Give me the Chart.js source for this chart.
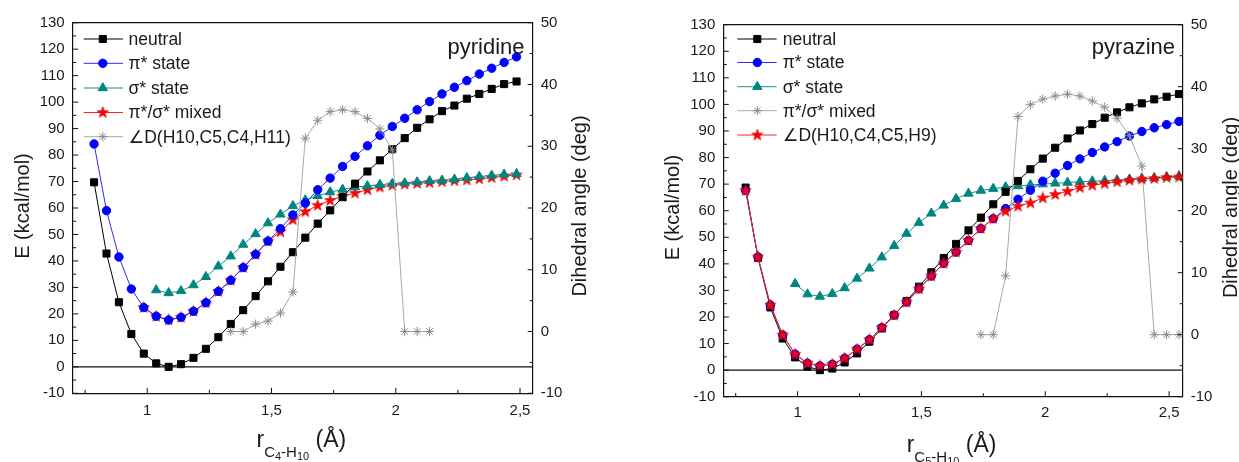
<!DOCTYPE html>
<html>
<head>
<meta charset="utf-8">
<script src="https://cdn.jsdelivr.net/npm/chart.js@4.4.1/dist/chart.umd.min.js"></script>
<style>
  html, body { margin: 0; padding: 0; background: #fff; }
  #wrap { position: relative; width: 1239px; height: 462px; overflow: hidden; }
  canvas { position: absolute; top: 0; }
  #pyridine { left: 0; }
  #pyrazine { left: 620px; }
</style>
</head>
<body>
<div id="wrap">
  <canvas id="pyridine" width="620" height="462"></canvas>
  <canvas id="pyrazine" width="619" height="462"></canvas>
</div>
<script>
// ---- pyridine (left panel) ----
var rPyridine = [0.786, 0.836, 0.886, 0.936, 0.986, 1.036, 1.086, 1.136, 1.186, 1.236, 1.286, 1.336,
  1.386, 1.436, 1.486, 1.536, 1.586, 1.636, 1.686, 1.736, 1.786, 1.836, 1.886, 1.936, 1.986, 2.036,
  2.086, 2.136, 2.186, 2.236, 2.286, 2.336, 2.386, 2.436, 2.486];
var pyridineNeutral = [69.7, 42.8, 24.4, 12.4, 5.0, 1.3, 0, 1.0, 3.4, 6.8, 11.2, 16.2, 21.4, 26.7,
  32.3, 37.8, 43.3, 48.8, 54.1, 59.1, 64.1, 69.2, 73.8, 78.0, 82.2, 86.4, 90.3, 93.5, 96.6, 98.7,
  101.3, 103.1, 105.0, 106.8, 107.8];
var pyridinePi = [84.2, 59.0, 41.5, 29.4, 22.4, 19.1, 17.7, 18.7, 21.0, 24.2, 28.5, 32.7, 37.5, 42.5,
  47.5, 52.2, 57.4, 61.8, 66.9, 71.3, 75.7, 79.5, 83.5, 87.5, 90.8, 93.9, 97.1, 100.2, 103.1, 105.6,
  108.1, 110.6, 112.8, 115.0, 117.1];
var pyridineSigma = [null, null, null, null, null, 29.0, 27.9, 28.7, 30.9, 34.0, 38.0, 41.8, 46.2,
  50.2, 54.3, 57.6, 60.8, 63.0, 64.6, 66.0, 67.0, 67.9, 68.3, 68.8, 69.2, 69.4, 69.8, 70.2, 70.4,
  70.8, 71.4, 71.9, 72.3, 72.7, 72.9];
var pyridineMixed = [null, null, null, null, 22.4, 19.1, 17.7, 18.7, 21.0, 24.2, 28.5, 32.7, 37.5,
  42.5, 47.5, 51.0, 55.6, 58.6, 61.0, 62.9, 64.4, 65.6, 66.9, 67.9, 68.6, 69.0, 69.3, 69.6, 70.0,
  70.3, 70.6, 71.0, 71.5, 72.0, 72.5];
var pyridineAngle = [null, null, null, null, null, null, null, null, null, null, null, 0, 0, 1.2, 1.7,
  3.0, 6.4, 31.3, 34.2, 35.6, 35.9, 35.6, 34.5, 32.8, 29.4, 0, 0, 0, null, null, null, null, null,
  null, null];

// ---- pyrazine (right panel) ----
var rPyrazine = [0.79, 0.84, 0.89, 0.94, 0.99, 1.04, 1.09, 1.14, 1.19, 1.24, 1.29, 1.34, 1.39, 1.44,
  1.49, 1.54, 1.59, 1.64, 1.69, 1.74, 1.79, 1.84, 1.89, 1.94, 1.99, 2.04, 2.09, 2.14, 2.19, 2.24,
  2.29, 2.34, 2.39, 2.44, 2.49, 2.54];
var pyrazineNeutral = [68.7, 42.3, 23.6, 11.9, 4.8, 1.3, 0, 0.6, 2.9, 6.3, 10.7, 15.7, 20.7, 26.0,
  31.4, 36.8, 42.2, 47.5, 52.6, 57.4, 62.4, 67.1, 71.2, 75.6, 79.6, 83.7, 87.2, 90.2, 92.6, 95.0,
  97.0, 98.9, 100.4, 101.9, 102.9, 103.9];
var pyrazinePi = [67.6, 42.6, 24.5, 13.2, 6.0, 2.6, 1.6, 2.2, 4.5, 7.9, 11.5, 16.0, 20.7, 25.6, 30.6,
  35.4, 40.2, 44.4, 48.8, 53.3, 57.0, 60.8, 64.3, 67.7, 71.1, 74.1, 77.0, 79.5, 81.9, 84.0, 86.0,
  88.1, 89.8, 91.2, 92.4, 93.6];
var pyrazineSigma = [null, null, null, null, 32.5, 28.6, 27.7, 28.7, 30.9, 34.5, 38.3, 42.5, 46.8,
  51.4, 55.5, 59.0, 62.0, 64.5, 66.5, 67.6, 68.3, 68.9, 69.3, 69.7, 70.0, 70.3, 70.6, 70.9, 71.1,
  71.3, 71.5, 71.8, 72.1, 72.3, 72.7, 73.0];
var pyrazineAngle = [null, null, null, null, null, null, null, null, null, null, null, null, null,
  null, null, null, null, null, null, 0, 0, 9.5, 35.2, 37.1, 38.0, 38.5, 38.8, 38.5, 37.7, 36.7,
  34.9, 32.1, 27.2, 0, 0, 0];
var pyrazineMixed = [67.6, 42.6, 24.5, 13.2, 6.0, 2.6, 1.6, 2.2, 4.5, 7.9, 11.5, 16.0, 20.7, 25.6,
  30.6, 35.4, 40.2, 44.4, 48.8, 53.3, 57.0, 59.8, 61.7, 62.9, 64.8, 66.1, 67.3, 68.7, 69.6, 70.2,
  70.9, 71.5, 71.9, 72.1, 72.5, 72.7];

// ---- axes ----
var xMajorTicks = [1, 1.5, 2, 2.5];
var xMinorTicks = [0.75, 1.25, 1.75, 2.25];
var energyRange = [-10, 130];
var angleRange = [-10, 50];

var FONT = "'Liberation Sans', Arial, 'DejaVu Sans', sans-serif";
Chart.defaults.font.family = FONT;
Chart.defaults.color = '#1a1a1a';

function starImage() {
  var c = document.createElement('canvas');
  c.width = 13; c.height = 13;
  var g = c.getContext('2d');
  g.beginPath();
  for (var k = 0; k < 10; k++) {
    var a = -Math.PI / 2 + k * Math.PI / 5;
    var rr = k % 2 ? 2.4 : 6;
    g.lineTo(6.5 + rr * Math.cos(a), 6.6 + rr * Math.sin(a));
  }
  g.closePath();
  g.fillStyle = '#ff0000';
  g.fill();
  g.strokeStyle = '#d00000';
  g.lineWidth = 0.6;
  g.stroke();
  return c;
}

var look = {
  neutral: { line: '#000000', fill: '#000000', point: 'rect', radius: 5 },
  pi: { line: '#2a2aff', fill: '#0000ff', point: 'circle', radius: 4.2 },
  sigma: { line: '#1a8f8a', fill: '#008580', point: 'triangle', radius: 5.4 },
  red: { line: '#ff2020', fill: '#ff0000', point: starImage(), radius: 5 },
  gray: { line: '#a8a8a8', fill: '#8a8a8a', point: 'star', radius: 4.6 }
};

function line(ctx, x1, y1, x2, y2) {
  ctx.beginPath();
  ctx.moveTo(x1, y1);
  ctx.lineTo(x2, y2);
  ctx.stroke();
}

function makeDecor(spec) {
  return {
    id: 'decor',
    afterDraw: function(chart) {
      var ctx = chart.ctx, a = chart.chartArea;
      var sx = chart.scales.x, sy = chart.scales.y, sy2 = chart.scales.y2;
      var v;
      ctx.save();
      ctx.strokeStyle = '#111';
      ctx.lineWidth = 1.2;
      line(ctx, a.left, a.top, a.right, a.top);
      var y0 = sy.getPixelForValue(0);
      line(ctx, a.left, y0, a.right, y0);

      // inward ticks
      ctx.lineWidth = 1;
      for (v = energyRange[0]; v <= energyRange[1]; v += 5) {
        var yy = sy.getPixelForValue(v);
        line(ctx, a.left, yy, a.left + (v % 10 === 0 ? 5.5 : 3.5), yy);
      }
      for (v = angleRange[0]; v <= angleRange[1]; v += 5) {
        var y2 = sy2.getPixelForValue(v);
        line(ctx, a.right, y2, a.right - (v % 10 === 0 ? 5 : 3), y2);
      }
      xMajorTicks.forEach(function(t) {
        var xx = sx.getPixelForValue(t);
        line(ctx, xx, a.bottom, xx, a.bottom - 5.5);
      });
      xMinorTicks.forEach(function(t) {
        var xx = sx.getPixelForValue(t);
        line(ctx, xx, a.bottom, xx, a.bottom - 3.5);
      });

      // axis titles
      ctx.fillStyle = '#1a1a1a';
      ctx.font = '20px ' + FONT;
      ctx.textAlign = 'center';
      ctx.textBaseline = 'alphabetic';
      ctx.save();
      ctx.translate(spec.eTitleX, spec.titleMidY);
      ctx.rotate(-Math.PI / 2);
      ctx.fillText('E (kcal/mol)', 0, 0);
      ctx.restore();
      ctx.save();
      ctx.translate(spec.dTitleX, spec.titleMidY);
      ctx.rotate(-Math.PI / 2);
      ctx.fillText('Dihedral angle (deg)', 0, 0);
      ctx.restore();

      ctx.textAlign = 'left';
      var x = spec.rTitleX;
      spec.rTitle.forEach(function(run) {
        ctx.font = run.size + 'px ' + FONT;
        ctx.fillText(run.text, x, spec.rTitleBase + run.dy);
        x += ctx.measureText(run.text).width;
      });

      // molecule name
      ctx.font = '22px ' + FONT;
      ctx.textAlign = 'right';
      ctx.fillText(spec.name, spec.nameX, spec.nameY);

      // legend
      var lg = spec.legend;
      ctx.font = '17.5px ' + FONT;
      ctx.textAlign = 'left';
      ctx.textBaseline = 'middle';
      spec.series.forEach(function(s, i) {
        var ly = lg.ys[i];
        ctx.strokeStyle = s.look.line;
        ctx.lineWidth = 1;
        line(ctx, lg.x0, ly, lg.x1, ly);
        ctx.fillStyle = s.look.fill;
        ctx.strokeStyle = s.look.fill;
        Chart.helpers.drawPoint(ctx, {
          pointStyle: s.look.point, radius: s.look.radius, borderWidth: 1, rotation: 0
        }, lg.mx, ly);
        ctx.fillStyle = '#1a1a1a';
        ctx.fillText(s.label, lg.tx, ly + 1);
      });
      ctx.restore();
    }
  };
}

function drawPanel(id, spec) {
  var canvas = document.getElementById(id);
  var W = canvas.width, H = canvas.height, A = spec.area;
  var datasets = spec.series.map(function(s) {
    return {
      label: s.label,
      data: spec.r.map(function(x, i) { return { x: x, y: s.values[i] }; })
                  .filter(function(p) { return p.y !== null; }),
      yAxisID: s.axis,
      order: s.order,
      borderColor: s.look.line,
      borderWidth: 1,
      backgroundColor: s.look.fill,
      pointBackgroundColor: s.look.fill,
      pointBorderColor: s.look.fill,
      pointBorderWidth: 1,
      pointStyle: s.look.point,
      pointRadius: s.look.radius,
      tension: 0,
      fill: false
    };
  });
  var tickFont = { size: 15 };
  new Chart(canvas, {
    type: 'line',
    data: { datasets: datasets },
    options: {
      responsive: false,
      animation: false,
      events: [],
      layout: { autoPadding: false, padding: { top: A.top, left: 0, right: 0, bottom: 0 } },
      plugins: { legend: { display: false }, tooltip: { enabled: false } },
      scales: {
        x: {
          type: 'linear', min: 0.70, max: spec.xMax,
          grid: { display: false, drawTicks: false },
          border: { color: '#111', width: 1.2 },
          ticks: {
            font: tickFont, padding: spec.xPad, maxRotation: 0,
            callback: function(v) { return String(v).replace('.', ','); }
          },
          afterBuildTicks: function(s) { s.ticks = xMajorTicks.map(function(v) { return { value: v }; }); },
          afterFit: function(s) { s.height = H - A.bottom; }
        },
        y: {
          position: 'left', min: energyRange[0], max: energyRange[1],
          grid: { display: false, drawTicks: false },
          border: { color: '#111', width: 1.2 },
          ticks: { font: tickFont, stepSize: 10, padding: 8 },
          afterFit: function(s) { s.width = A.left; }
        },
        y2: {
          position: 'right', min: angleRange[0], max: angleRange[1],
          grid: { display: false, drawTicks: false },
          border: { color: '#111', width: 1.2 },
          ticks: { font: tickFont, stepSize: 10, padding: 8 },
          afterFit: function(s) { s.width = W - A.right; }
        }
      }
    },
    plugins: [makeDecor(spec)]
  });
}

drawPanel('pyridine', {
  r: rPyridine,
  area: { left: 72.7, right: 532.7, top: 22.7, bottom: 393.3 },
  xMax: 2.551, xPad: 9,
  name: 'pyridine', nameX: 524.5, nameY: 53.5,
  eTitleX: 28.5, dTitleX: 586, titleMidY: 206,
  rTitleX: 256.5, rTitleBase: 447,
  rTitle: [
    { text: 'r', size: 23, dy: 0 }, { text: 'C', size: 15, dy: 10 }, { text: '4', size: 11, dy: 13 },
    { text: '-H', size: 15, dy: 10 }, { text: '10', size: 11, dy: 13 }, { text: ' (Å)', size: 23, dy: 0 }
  ],
  legend: { x0: 83.7, x1: 123, mx: 102.8, tx: 128.5, ys: [39, 63.3, 88, 112.5, 136.7] },
  series: [
    { label: 'neutral', values: pyridineNeutral, axis: 'y', order: 1, look: look.neutral },
    { label: 'π* state', values: pyridinePi, axis: 'y', order: 2, look: look.pi },
    { label: 'σ* state', values: pyridineSigma, axis: 'y', order: 3, look: look.sigma },
    { label: 'π*/σ* mixed', values: pyridineMixed, axis: 'y', order: 4, look: look.red },
    { label: '∠D(H10,C5,C4,H11)', values: pyridineAngle, axis: 'y2', order: 0, look: look.gray }
  ]
});

drawPanel('pyrazine', {
  r: rPyrazine,
  area: { left: 103.3, right: 562.7, top: 24.7, bottom: 396.7 },
  xMax: 2.555, xPad: 7,
  name: 'pyrazine', nameX: 555, nameY: 54,
  eTitleX: 59, dTitleX: 617, titleMidY: 207.5,
  rTitleX: 286.7, rTitleBase: 452,
  rTitle: [
    { text: 'r', size: 23, dy: 0 }, { text: 'C', size: 15, dy: 10 }, { text: '5', size: 11, dy: 13 },
    { text: '-H', size: 15, dy: 10 }, { text: '10', size: 11, dy: 13 }, { text: ' (Å)', size: 23, dy: 0 }
  ],
  legend: { x0: 117.3, x1: 156.7, mx: 137.3, tx: 162.7, ys: [39, 62.5, 86.7, 110.7, 135] },
  series: [
    { label: 'neutral', values: pyrazineNeutral, axis: 'y', order: 3, look: look.neutral },
    { label: 'π* state', values: pyrazinePi, axis: 'y', order: 2, look: look.pi },
    { label: 'σ* state', values: pyrazineSigma, axis: 'y', order: 4, look: look.sigma },
    { label: 'π*/σ* mixed', values: pyrazineAngle, axis: 'y2', order: 1, look: look.gray },
    { label: '∠D(H10,C4,C5,H9)', values: pyrazineMixed, axis: 'y', order: 0, look: look.red }
  ]
});
</script>
</body>
</html>
